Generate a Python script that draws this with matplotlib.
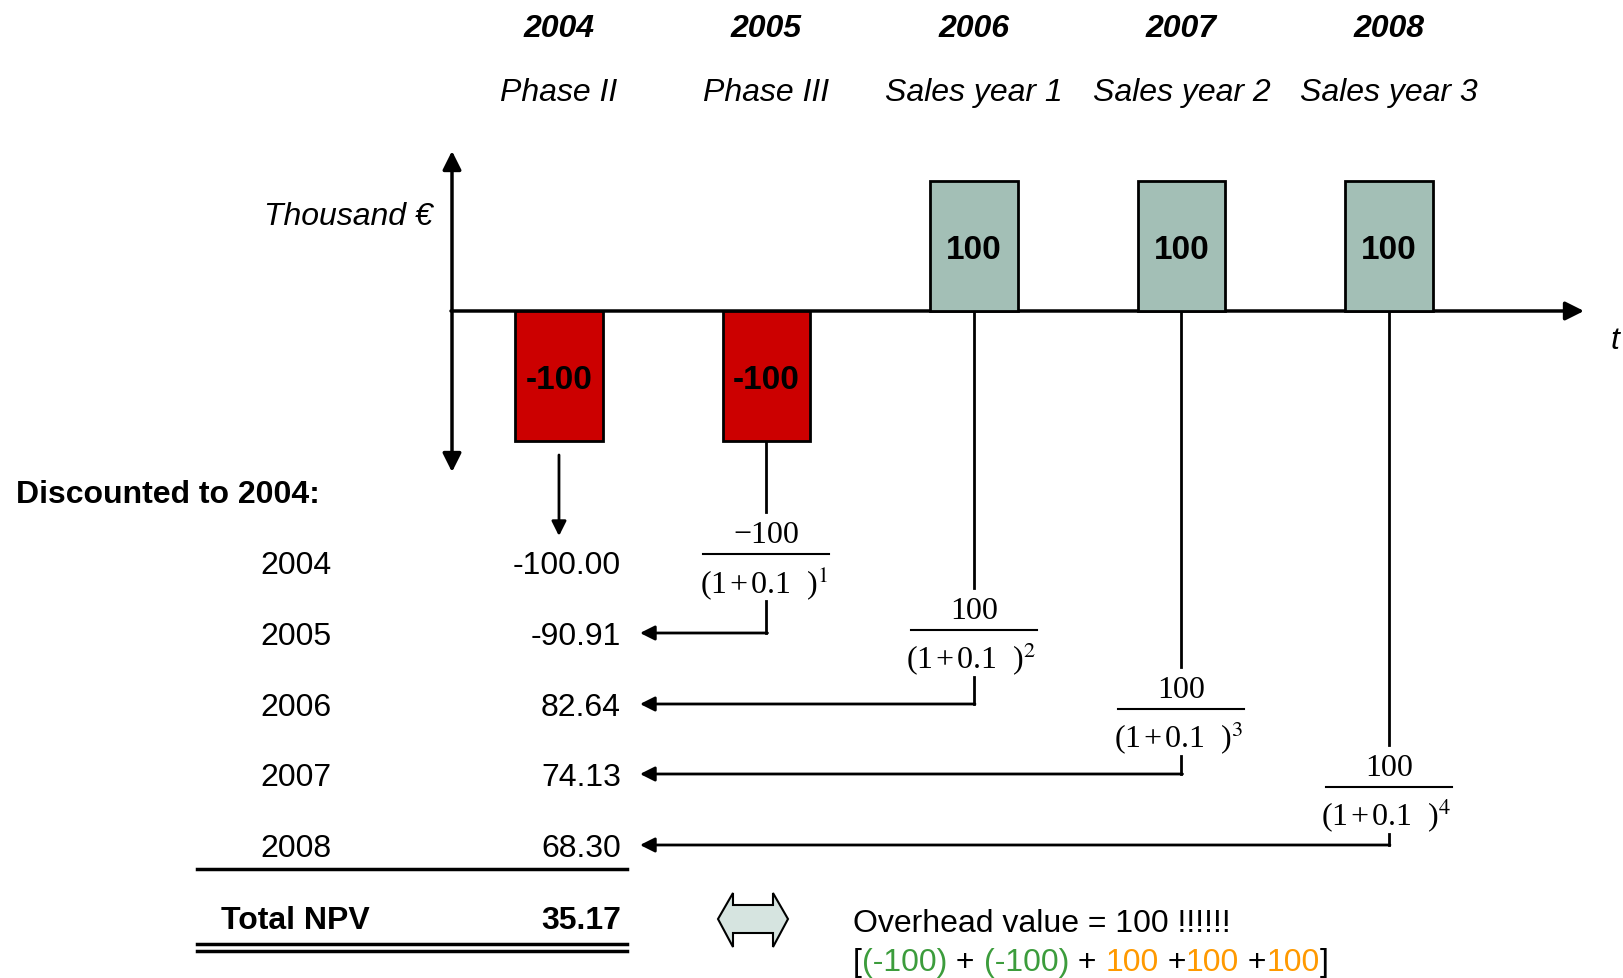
import matplotlib
matplotlib.use("Agg")
import matplotlib.pyplot as plt
from matplotlib.patches import Polygon

plt.rcParams['font.family'] = ['Liberation Sans', 'DejaVu Sans']
plt.rcParams['mathtext.fontset'] = 'stix'

# data
years = ['2004', '2005', '2006', '2007', '2008']
phases = ['Phase II', 'Phase III', 'Sales year 1', 'Sales year 2', 'Sales year 3']
cash_flows = [-100, -100, 100, 100, 100]
periods = [0, 1, 2, 3, 4]
rate_label = '0.1'
discounted = ['-100.00', '-90.91', '82.64', '74.13', '68.30']
total_npv = '35.17'

W, H = 1623, 979
FS = 23
fig = plt.figure(figsize=(W / 100, H / 100), dpi=100)

# overlay axes in pixel units
ax = fig.add_axes([0, 0, 1, 1])
ax.set_xlim(0, W)
ax.set_ylim(H, 0)
ax.axis('off')

# bar axes: x = period, y = thousand EUR
axb = fig.add_axes([0, 0, 1, 1])
axb.set_xlim(-2.694, 5.128)
axb.set_ylim(-513.1, 240)
axb.axis('off')
axb.patch.set_alpha(0)

colors = ['#cc0000' if v < 0 else '#a3bfb6' for v in cash_flows]
bars = axb.bar(periods, cash_flows, width=0.42, color=colors,
               edgecolor='black', linewidth=2, zorder=3)
for p, v in zip(periods, cash_flows):
    axb.text(p, v / 2 - 3, f'{v}', ha='center', va='center', fontsize=24,
             fontweight='bold', zorder=4)

# helpers to go from bar data to pixels
def to_px(x, y):
    d = axb.transData.transform((x, y))
    return ax.transData.inverted().transform(d)

# axes arrows
x0_px, y0_px = 452, to_px(0, 0)[1]
ax.annotate('', xy=(1584, y0_px), xytext=(x0_px - 1, y0_px),
            arrowprops=dict(arrowstyle='-|>', lw=2.5, color='black',
                            mutation_scale=28, shrinkA=0, shrinkB=0), zorder=5)
ax.annotate('', xy=(x0_px, 152), xytext=(x0_px, 473),
            arrowprops=dict(arrowstyle='<|-|>', lw=2.5, color='black',
                            mutation_scale=28, shrinkA=0, shrinkB=0), zorder=5)
ax.text(1615, 341, 't', fontsize=FS, style='italic', ha='center', va='center')
ax.text(433, 217, 'Thousand €', fontsize=FS, style='italic', ha='right', va='center')

# headers
for p, yr, ph in zip(periods, years, phases):
    xc = to_px(p, 0)[0]
    ax.text(xc, 29, yr, fontsize=FS, fontweight='bold', style='italic',
            ha='center', va='center')
    ax.text(xc, 93, ph, fontsize=FS, style='italic', ha='center', va='center')

# discount table
row_y = [563, 634, 705, 775, 846]
ax.text(16, 495, 'Discounted to 2004:', fontsize=FS, fontweight='bold',
        ha='left', va='center')
for yr, val, ry in zip(years, discounted, row_y):
    ax.text(296, ry + 3, yr, fontsize=FS, ha='center', va='center')
    ax.text(621, ry + 3, val, fontsize=FS, ha='right', va='center')
ax.plot([197, 627], [870, 870], color='black', lw=2.5)
ax.text(221, 921, 'Total NPV', fontsize=FS, fontweight='bold', ha='left', va='center')
ax.text(621, 921, total_npv, fontsize=FS, fontweight='bold', ha='right', va='center')
ax.plot([197, 627], [945, 945], color='black', lw=2.5)
ax.plot([197, 627], [952, 952], color='black', lw=2.5)

# first bar: straight down arrow
xc0 = to_px(0, 0)[0]
bot0 = to_px(0, cash_flows[0])[1]
ax.annotate('', xy=(xc0, 537), xytext=(xc0, bot0 + 14),
            arrowprops=dict(arrowstyle='-|>', lw=2, color='black',
                            mutation_scale=22, shrinkA=0, shrinkB=0))

# discounting fractions
frac_y = [555, 631, 710, 788]
serif = ['Liberation Serif', 'DejaVu Serif']
for p, v, fy in zip(periods[1:], cash_flows[1:], frac_y):
    xc = to_px(p, 0)[0]
    start = to_px(p, min(v, 0))[1]
    ry = row_y[p]
    ax.plot([xc, xc], [start, fy - 42], color='black', lw=2)
    ax.plot([xc - 63, xc + 63], [fy, fy], color='black', lw=1.5)
    num = f'{v}'.replace('-', '\u2212')
    ax.text(xc, fy - 19, num, fontsize=FS, family=serif, ha='center', va='center')
    ax.text(xc - 3, fy + 28, f'(1\u200a+\u200a{rate_label}  )$^{{{p}}}$', fontsize=FS,
            family=serif, ha='center', va='center')
    ax.plot([xc, xc], [fy + 47, ry], color='black', lw=2)
    ax.annotate('', xy=(640, ry), xytext=(xc + 1, ry),
                arrowprops=dict(arrowstyle='-|>', lw=2, color='black',
                                mutation_scale=22, shrinkA=0, shrinkB=0))

# double arrow
dbl = Polygon([(718, 920), (733, 894), (733, 906), (773, 906), (773, 894),
               (788, 920), (773, 948), (773, 934), (733, 934), (733, 948)],
              closed=True, facecolor='#d6e4e0', edgecolor='black', lw=1.5)
ax.add_patch(dbl)

# overhead text
ax.text(853, 924, 'Overhead value = 100 !!!!!!', fontsize=FS, ha='left', va='center')
green, orange = '#3c9c3c', '#ff9900'
pieces = [('[', 'black'), ('(-100)', green), (' + ', 'black'), ('(-100)', green),
          (' + ', 'black'), ('100', orange), (' +', 'black'), ('100', orange),
          (' +', 'black'), ('100', orange), (']', 'black')]
t = ax.text(853, 963, pieces[0][0], color=pieces[0][1], fontsize=FS,
            ha='left', va='center')
for s, c in pieces[1:]:
    t = ax.annotate(s, xy=(1, 0), xycoords=t, xytext=(0, 0),
                    textcoords='offset points', color=c, fontsize=FS,
                    ha='left', va='bottom')

fig.savefig('out.png', dpi=100)
